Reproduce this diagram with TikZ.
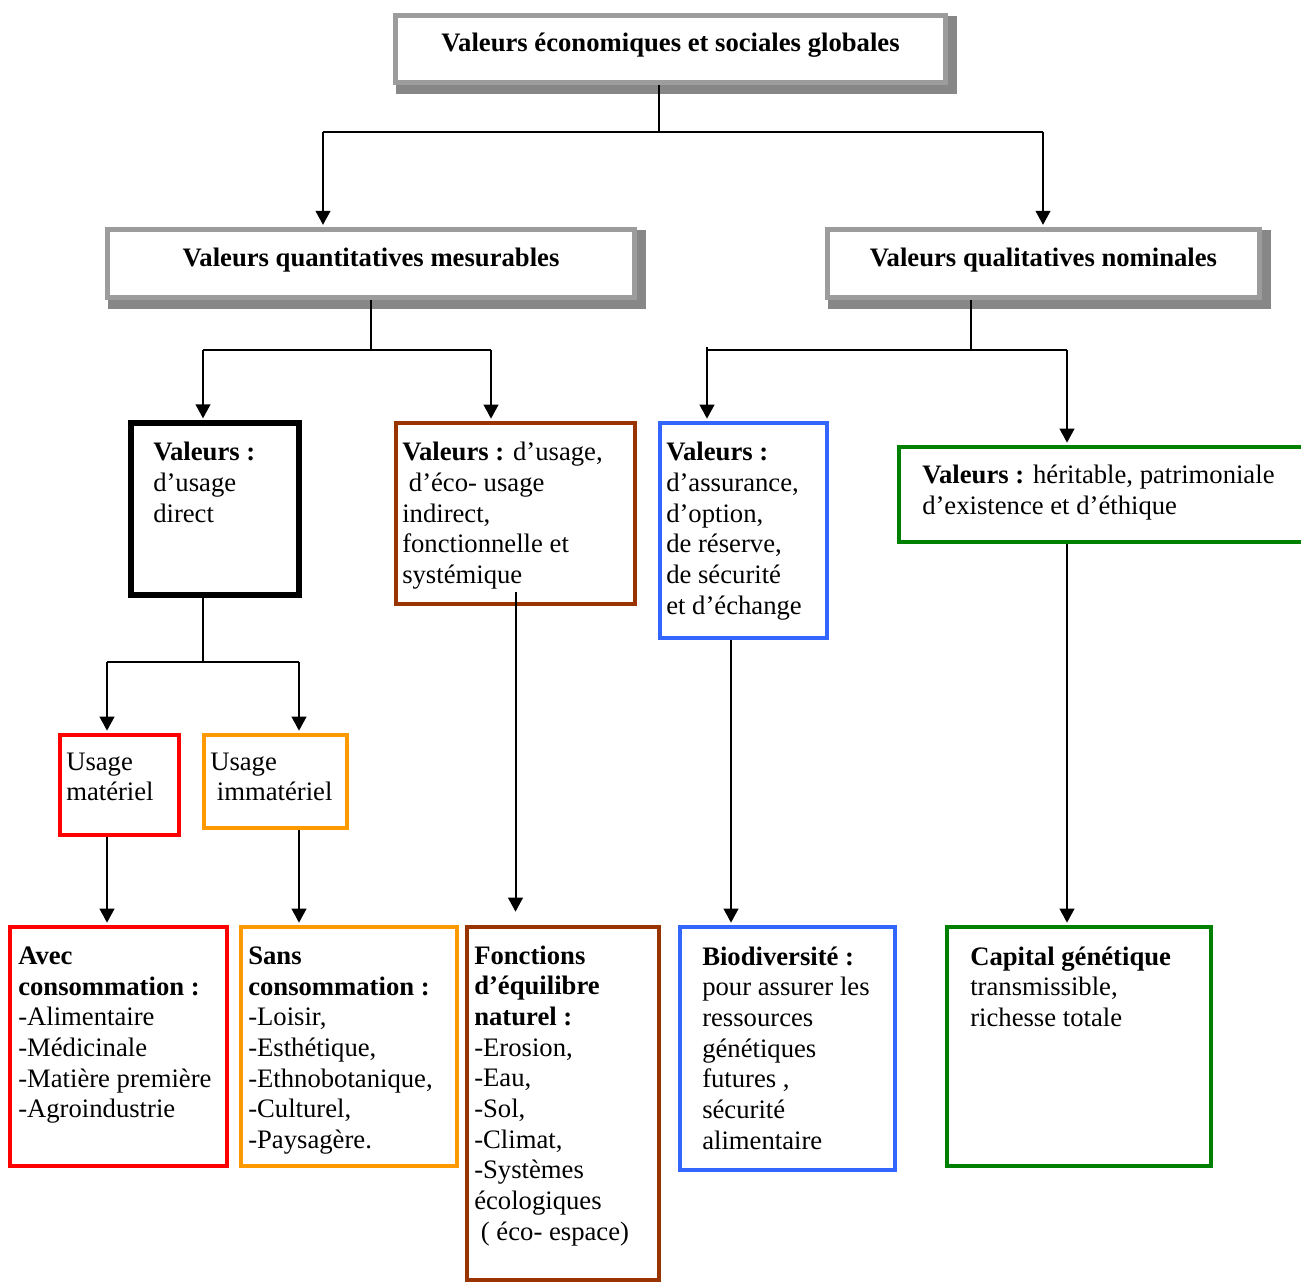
\documentclass[tikz,border=0pt]{standalone}
\usepackage{fontspec}
\setmainfont{Liberation Serif}
\usetikzlibrary{arrows.meta,calc,fit,backgrounds}

\definecolor{headgray}{HTML}{9C9C9C}
\definecolor{shadowgray}{HTML}{878787}
\definecolor{vred}{HTML}{FF0000}
\definecolor{vorange}{HTML}{FF9900}
\definecolor{vbrown}{HTML}{993300}
\definecolor{vblue}{HTML}{3366FF}
\definecolor{vgreen}{HTML}{008000}

\begin{document}
\begin{tikzpicture}[x=0.75pt,y=-0.75pt,
  conn/.style={line width=1.5pt},
  arr/.style={conn,-{Triangle[width=11pt,length=10.5pt]},shorten >=1.5pt},
  frame/.style={draw=#1,line width=3.5pt,inner sep=0pt},
  headbox/.style={draw=headgray,fill=white,line width=4pt,inner sep=0pt},
  shadowbox/.style={draw=shadowgray,fill=shadowgray,line width=4pt},
  txt/.style={anchor=north west,inner sep=0pt,align=left,
    font=\fontsize{20}{23}\selectfont,execute at begin node=\rule{0pt}{16pt}},
  title/.style={anchor=base,inner sep=0pt,font=\bfseries\fontsize{20}{23}\selectfont}]

\useasboundingbox (0,0) rectangle (1301,1283);
\clip (0,0) rectangle (1301,1283);

% header boxes with their drop shadows
\node[headbox, fit={(395.5,15.5)(945.5,82.5)}] (top) {};
\node[title] (top-t) at (670.5,51) {Valeurs économiques et sociales globales};
\node[headbox, fit={(107.5,229.5)(634.5,297.5)}] (quant) {};
\node[title] (quant-t) at (371,266) {Valeurs quantitatives mesurables};
\node[headbox, fit={(827.5,229.5)(1259.5,297.5)}] (qual) {};
\node[title] (qual-t) at (1043.5,266) {Valeurs qualitatives nominales};

\begin{scope}[on background layer]
  \foreach \n in {top,quant,qual}
    \draw[shadowbox] ($(\n.north west)+(6,6)$) rectangle ($(\n.south east)+(6,6)$);
\end{scope}

% second level
\node[frame=black, line width=4pt, fit={(131,423)(299,595)}] (direct) {};
\node[txt] (direct-t) at (153,442) {\textbf{Valeurs :}\\d’usage\\direct};

\node[frame=vbrown, fit={(396,423)(635,604)}] (brown) {};
\node[txt] (brown-t) at (402,442) {\textbf{Valeurs :} d’usage,\\\hspace*{5pt}d’éco- usage\\indirect,\\fonctionnelle et\\systémique};

\node[frame=vblue, fit={(660,423)(827,638)}] (assur) {};
\node[txt] (assur-t) at (666,442) {\textbf{Valeurs :}\\d’assurance,\\d’option,\\de réserve,\\de sécurité\\et d’échange};

\node[frame=vgreen, fit={(899,447)(1312,542)}] (herit) {};
\node[txt] (herit-t) at (922,465) {\textbf{Valeurs :} héritable, patrimoniale\\d’existence et d’éthique};

% third level
\node[frame=vred, fit={(60,735)(179,835)}] (mat) {};
\node[txt] (mat-t) at (66,752.5) {Usage\\matériel};

\node[frame=vorange, fit={(204,735)(347,828)}] (immat) {};
\node[txt] (immat-t) at (210,752.5) {Usage\\\hspace*{5pt}immatériel};

% bottom row
\node[frame=vred, fit={(10,927)(227,1166)}] (avec) {};
\node[txt] (avec-t) at (18,946.5) {\textbf{Avec}\\\textbf{consommation :}\\-Alimentaire\\-Médicinale\\-Matière première\\-Agroindustrie};

\node[frame=vorange, fit={(241,927)(457,1166)}] (sans) {};
\node[txt] (sans-t) at (248,946.5) {\textbf{Sans}\\\textbf{consommation :}\\-Loisir,\\-Esthétique,\\-Ethnobotanique,\\-Culturel,\\-Paysagère.};

\node[frame=vbrown, fit={(467,927)(659,1280)}] (fonct) {};
\node[txt] (fonct-t) at (474,945.5) {\textbf{Fonctions}\\\textbf{d’équilibre}\\\textbf{naturel :}\\-Erosion,\\-Eau,\\-Sol,\\-Climat,\\-Systèmes\\écologiques\\\hspace*{5pt}( éco- espace)};

\node[frame=vblue, fit={(680,927)(895,1170)}] (biodiv) {};
\node[txt] (biodiv-t) at (702,946.5) {\textbf{Biodiversité :}\\pour assurer les\\ressources\\génétiques\\futures ,\\sécurité\\alimentaire};

\node[frame=vgreen, fit={(947,927)(1211,1166)}] (capital) {};
\node[txt] (capital-t) at (970,946.5) {\textbf{Capital génétique}\\transmissible,\\richesse totale};

% junction points
\coordinate (j1) at (659,132);
\coordinate (b1l) at (323,132);
\coordinate (b1r) at (1043,132);
\coordinate (b2l) at (203,350);
\coordinate (b2r) at (491,350);
\coordinate (j3) at (971,350);
\coordinate (b3l) at (707,350);
\coordinate (b3r) at (1067,350);
\coordinate (b4l) at (107,662);
\coordinate (b4r) at (299,662);
\coordinate (bluex) at (731,638);

% connectors
\draw[conn] (top.south -| j1) -- (j1);
\draw[conn] (b1l) -- (b1r);
\draw[arr] (b1l) -- (b1l |- quant.north);
\draw[arr] (b1r) -- (b1r |- qual.north);

\draw[conn] (quant.south) -- (quant.south |- b2l);
\draw[conn] (b2l) -- (b2r);
\draw[arr] (b2l) -- (b2l |- direct.north);
\draw[arr] (b2r) -- (b2r |- brown.north);

\draw[conn] (qual.south -| j3) -- (j3);
\draw[conn] ($(b3l)+(0,-3)$) -- (b3l) -- (b3r);
\draw[arr] (b3l) -- (b3l |- assur.north);
\draw[arr] (b3r) -- (b3r |- herit.north);

\draw[conn] (direct.south -| b2l) -- (b2l |- b4l);
\draw[conn] (b4l) -- (b4r);
\draw[arr] (b4l) -- (b4l |- mat.north);
\draw[arr] (b4r) -- (b4r |- immat.north);

\draw[arr] (mat.south -| b4l) -- (avec.north -| b4l);
\draw[arr] (immat.south -| b4r) -- (sans.north -| b4r);
\draw[arr] ($(brown.south)+(0,-14)$) -- ($(brown.south |- fonct.north)+(0,-11)$);
\draw[arr] (bluex |- assur.south) -- (bluex |- biodiv.north);
\draw[arr] (herit.south -| b3r) -- (capital.north -| b3r);
\end{tikzpicture}
\end{document}
